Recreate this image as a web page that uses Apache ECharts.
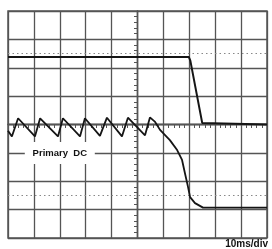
<!DOCTYPE html>
<html>
<head>
<meta charset="utf-8">
<script src="https://cdn.jsdelivr.net/npm/echarts@6/dist/echarts.min.js"></script>
<style>
  html, body { margin: 0; padding: 0; background: #fff; }
  #main { width: 272px; height: 249px; }
</style>
</head>
<body>
<div id="main"></div>
<script>
// screen: 10 div wide (x -5..5), 8 div high (y -4..4)
const topTraceX = [-5, 1.98, 2.04, 2.5, 2.56, 5];
const topTraceY = [2.38, 2.38, 2.25, 0.05, 0, 0];

const dcTraceX = [-5, -4.85, -4.61, -3.96, -3.76, -3.07, -2.88, -2.22, -2.03, -1.45, -1.18, -0.6, -0.37, 0.29, 0.48, 0.68, 0.87, 1.25, 1.53, 1.72, 1.83, 1.95, 2.03, 2.22, 2.53, 5];
const dcTraceY = [-0.22, -0.42, 0.22, -0.42, 0.22, -0.42, 0.22, -0.42, 0.22, -0.4, 0.24, -0.42, 0.24, -0.38, 0.25, 0.09, -0.19, -0.55, -0.9, -1.25, -1.71, -2.2, -2.56, -2.77, -2.93, -2.93];

const dottedLevels = [2.5, -2.5];
const traceLabel = "Primary  DC";
const labelPos = [-3, -1];
const timeBase = "10ms/div";

const gridColor = "#555";
const traceColor = "#151515";

const pairs = (xs, ys) => xs.map((x, i) => [x, ys[i]]);

const myChart = echarts.init(document.getElementById("main"));

const centerAxis = (inside, withSplit) => ({
  type: "value",
  min: -5,
  max: 5,
  interval: 1,
  axisLine: { onZero: true, lineStyle: { color: gridColor, width: 1.3 } },
  axisTick: { show: true, inside: inside, length: 3.5, lineStyle: { color: gridColor, width: 1 } },
  minorTick: { show: true, splitNumber: 5, length: 3.5, lineStyle: { color: gridColor, width: 1 } },
  axisLabel: { show: false },
  splitLine: { show: withSplit, lineStyle: { color: gridColor, width: 1.3 } },
});

const centerYAxis = (inside, withSplit) => Object.assign(centerAxis(inside, withSplit), { min: -4, max: 4 });

myChart.setOption({
  animation: false,
  backgroundColor: "#fff",
  title: {
    text: timeBase,
    right: 4,
    top: 239,
    padding: 0,
    textStyle: { fontFamily: "Liberation Sans", fontSize: 10, fontWeight: "bold", color: "#111" },
  },
  grid: {
    left: 8,
    top: 11,
    width: 259,
    height: 227,
    show: true,
    borderColor: gridColor,
    borderWidth: 1.5,
  },
  xAxis: [centerAxis(false, true), Object.assign(centerAxis(true, false), { axisLine: { onZero: true, onZeroAxisIndex: 0, lineStyle: { color: gridColor, width: 1.3 } } })],
  yAxis: [centerYAxis(false, true), Object.assign(centerYAxis(true, false), { axisLine: { onZero: true, onZeroAxisIndex: 0, lineStyle: { color: gridColor, width: 1.3 } } })],
  series: [
    {
      name: "output",
      type: "line",
      data: pairs(topTraceX, topTraceY),
      showSymbol: false,
      lineStyle: { color: traceColor, width: 2 },
      z: 5,
      markLine: {
        silent: true,
        symbol: "none",
        label: { show: false },
        lineStyle: { type: [1.5, 3], color: "#888", width: 1 },
        data: dottedLevels.map((v) => ({ yAxis: v })),
      },
    },
    {
      name: "Primary DC",
      type: "line",
      data: pairs(dcTraceX, dcTraceY),
      showSymbol: false,
      lineStyle: { color: traceColor, width: 1.8 },
      z: 5,
      markPoint: {
        silent: true,
        symbol: "rect",
        symbolSize: [70, 22],
        itemStyle: { color: "#fff" },
        label: {
          show: true,
          formatter: traceLabel,
          fontFamily: "Liberation Sans",
          fontSize: 9.5,
          fontWeight: "bold",
          color: "#111",
        },
        data: [{ coord: labelPos }],
      },
    },
  ],
});
</script>
</body>
</html>
